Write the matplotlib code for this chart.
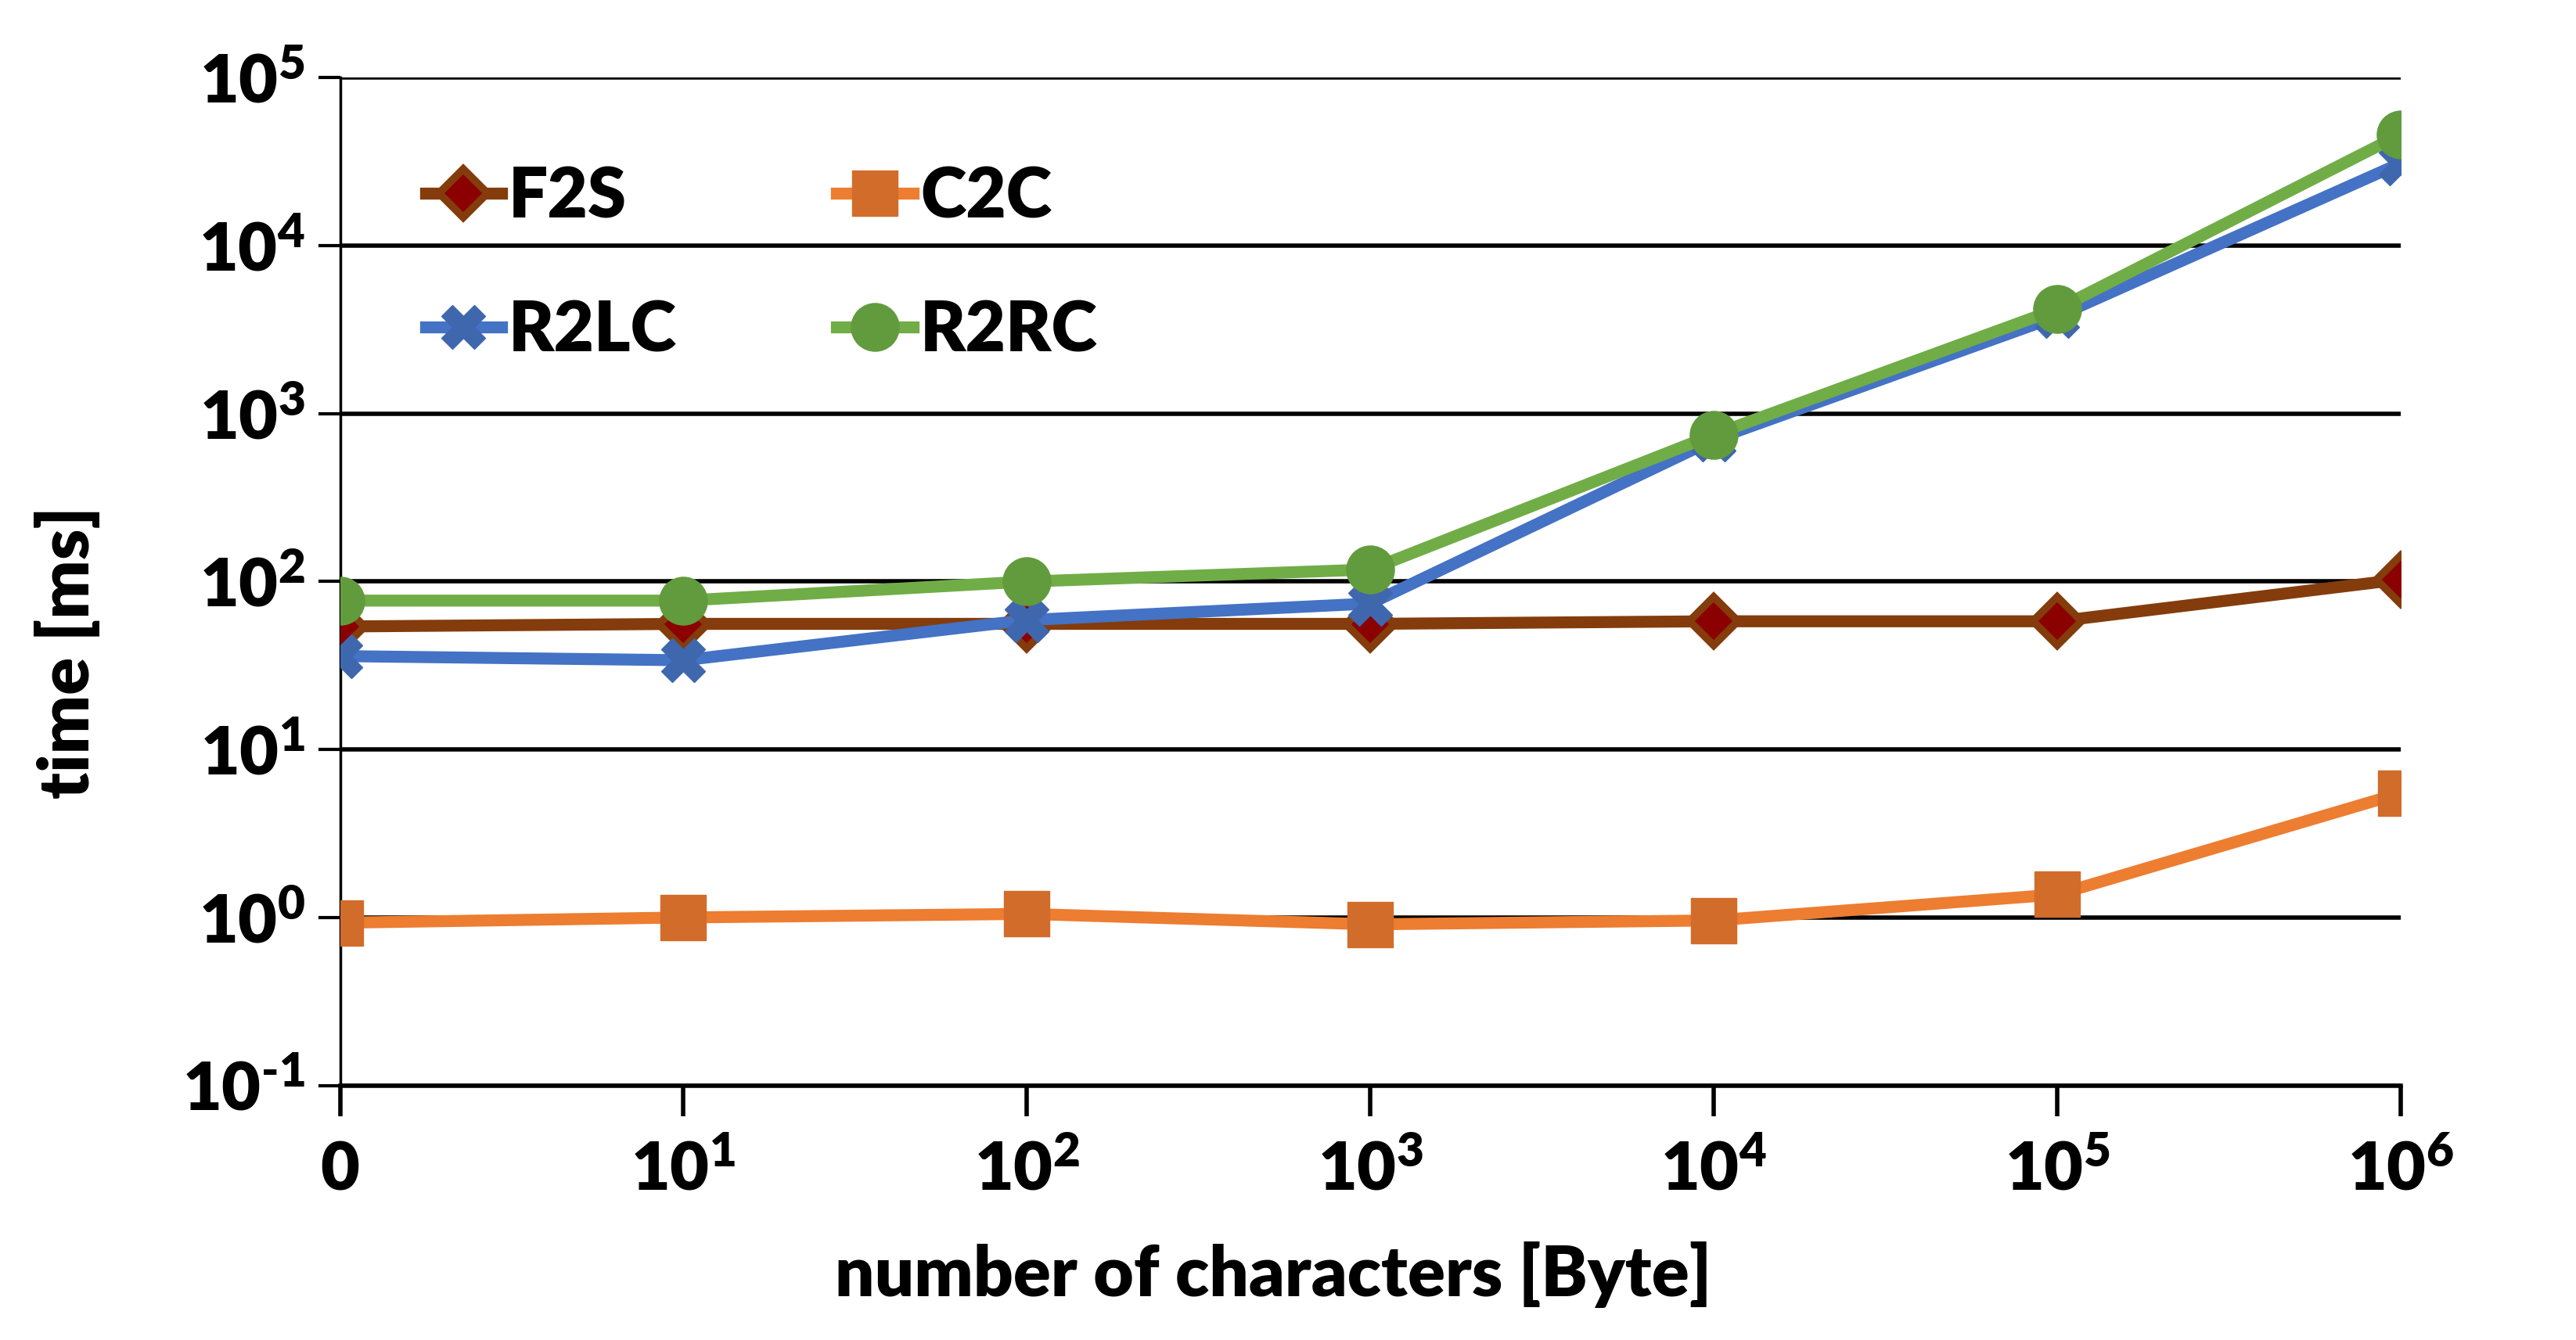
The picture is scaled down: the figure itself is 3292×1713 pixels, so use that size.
import numpy as np
import matplotlib as mpl
mpl.use('agg')
from matplotlib import pyplot as plt

plt.rcParams['font.family'] = ['Lato', 'DejaVu Sans']
plt.rcParams['font.weight'] = 'heavy'
plt.rcParams['mathtext.fontset'] = 'custom'
plt.rcParams['mathtext.rm'] = 'Lato:heavy'
plt.rcParams['mathtext.bf'] = 'Lato:heavy'

sizes = ['0', '10^{1}', '10^{2}', '10^{3}', '10^{4}', '10^{5}', '10^{6}']
ytick_exp = ['\\text{-}1', '0', '1', '2', '3', '4', '5']
f2s = [54, 56, 56, 56, 58, 58, 103]
c2c = [0.93, 1.0, 1.05, 0.91, 0.96, 1.37, 5.5]
r2lc = [36, 34, 59, 74, 700, 3800, 31000]
r2rc = [77, 77, 100, 118, 750, 4200, 46000]

xs = np.arange(len(sizes))

fig = plt.figure(figsize=(32.92, 17.13), dpi=100)
ax = fig.add_axes([0.132, 0.19, 0.80, 0.752])

l1, = ax.plot(xs, f2s, color='#843C0C', lw=11, marker='D', ms=32, mfc='#8B0000',
              mec='#843C0C', mew=7, label='F2S', zorder=4)
l2, = ax.plot(xs, c2c, color='#ED7D31', lw=11, marker='s', ms=42, mfc='#D26C2A',
              mec='#D26C2A', label='C2C', zorder=4)
l3, = ax.plot(xs, r2lc, color='#4472C4', lw=11, marker='X', ms=40, mfc='#3E67AE',
              mec='#3E67AE', label='R2LC', zorder=4)
l4, = ax.plot(xs, r2rc, color='#70AD47', lw=11, marker='o', ms=44, mfc='#629B3D',
              mec='#629B3D', label='R2RC', zorder=5)

ax.set_yscale('log')
ax.set_ylim(0.1, 1e5)
ax.set_xlim(0, 6)
ax.set_yticks([1e-1, 1, 10, 1e2, 1e3, 1e4, 1e5])
ax.set_yticklabels(['$\\mathbf{10^{%s}}$' % e for e in ytick_exp], fontsize=62)
ax.yaxis.set_minor_locator(mpl.ticker.NullLocator())
ax.set_xticks(xs)
ax.set_xticklabels(['$\\mathbf{%s}$' % s for s in sizes], fontsize=62)

ax.grid(axis='y', color='black', lw=4)
ax.set_axisbelow(True)
for side in ['top', 'right']:
    ax.spines[side].set_visible(False)
ax.spines['left'].set_linewidth(2.5)
ax.spines['bottom'].set_linewidth(4)
ax.tick_params(axis='y', length=20, width=3, pad=12)
ax.tick_params(axis='x', length=28, width=4, pad=22)

ax.set_ylabel('time [ms]', fontsize=64, fontweight='heavy')
ax.yaxis.set_label_coords(-0.116, 0.43)
ax.set_xlabel('number of characters [Byte]', fontsize=64, fontweight='heavy')
ax.xaxis.set_label_coords(0.453, -0.155)

leg = ax.legend([l1, l3, l2, l4], ['F2S', 'R2LC', 'C2C', 'R2RC'], ncol=2,
                loc='upper left', bbox_to_anchor=(0.011, 0.975), frameon=False,
                fontsize=64, handlelength=1.1, handletextpad=0.1, columnspacing=2.3,
                labelspacing=1.0)

plt.savefig('out.png', dpi=100)
